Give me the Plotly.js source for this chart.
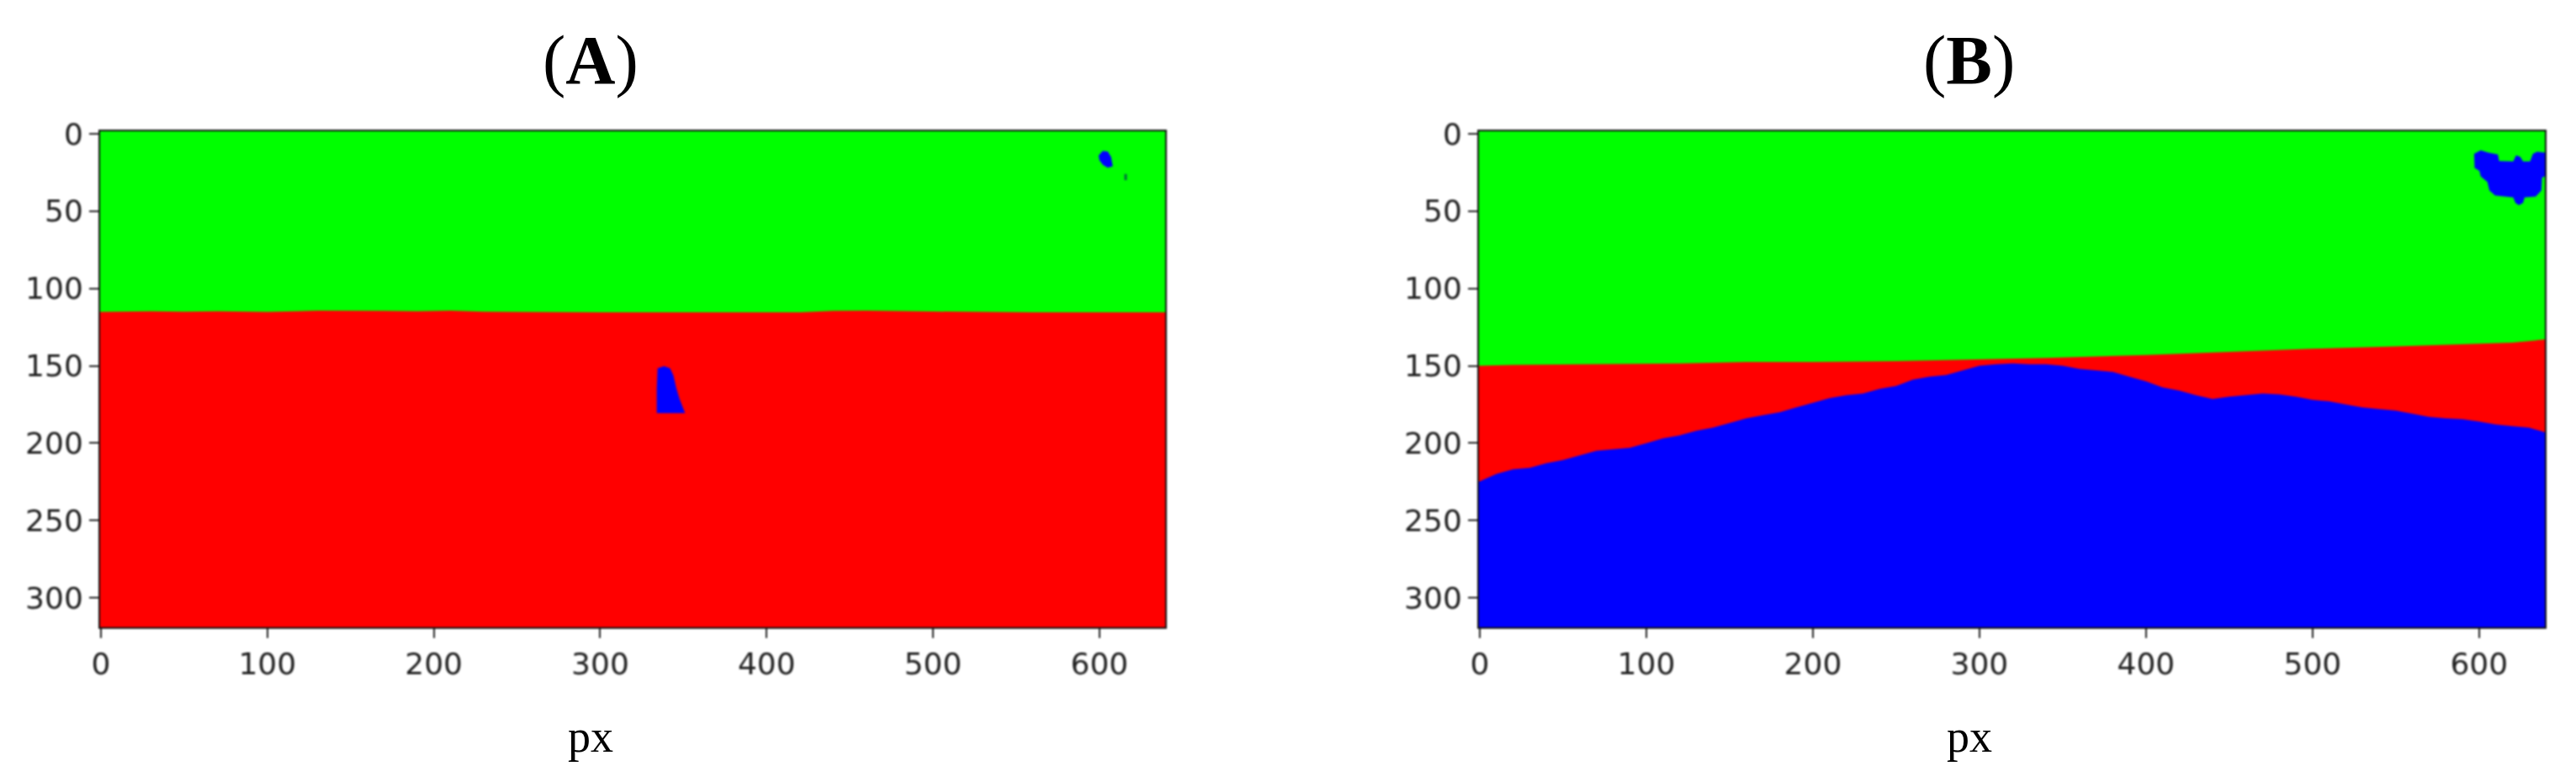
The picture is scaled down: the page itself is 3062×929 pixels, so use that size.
<!DOCTYPE html>
<html>
<head>
<meta charset="utf-8">
<script src="https://cdn.plot.ly/plotly-3.0.1.min.js"></script>
<style>
  html, body { margin: 0; padding: 0; background: #fff; }
  .cartesianlayer { filter: blur(0.9px); }
</style>
</head>
<body>
<div id="chart"></div>
<script>
// ─── Data (image pixels, y grows downward) ──────────────────────────
var xTicks = [0, 100, 200, 300, 400, 500, 600];
var yTicks = [0, 50, 100, 150, 200, 250, 300];
var xMin = -0.5, xMax = 639.5, yMin = -1.6, yMax = 319;

// Panel A: green / red edge
var aEdgeX = [-0.5, 30, 50, 70, 100, 130, 170, 190, 210, 230, 300, 420, 440, 460, 500, 560, 639.5];
var aEdgeY = [115.2, 114.7, 115, 114.7, 115.2, 114.3, 114.5, 114.7, 114.3, 115, 115.4, 115.4, 114.5, 114.3, 114.9, 115.4, 115.4];
// Panel A: object on the ground
var aObjectX = [334.5, 338.4, 342, 344, 345.7, 347.7, 351, 334, 334];
var aObjectY = [151.6, 150.2, 151.6, 156.2, 164.3, 171.5, 180.6, 180.6, 165];
// Panel A: patch in the sky
var aPatchX = [599.5, 602, 605, 607, 608, 605, 602, 600];
var aPatchY = [14, 11, 11.5, 15, 21, 22, 20, 17];
var aSpeckX = [615, 616.5, 616.5, 615];
var aSpeckY = [26, 26, 30, 30];

// Panel B: green / red edge
var bEdgeX = [-0.5, 20, 60, 120, 160, 200, 250, 300, 340, 400, 450, 500, 550, 600, 620, 639.5];
var bEdgeY = [150, 149.5, 149, 148.5, 147.5, 147.5, 147, 146, 145, 143, 141, 139, 137.5, 136, 135, 133];
// Panel B: red / blue edge
var bGroundX = [-0.5, 10, 20, 30, 40, 50, 60, 70, 80, 90, 100, 110, 120, 130, 140, 150, 160, 170, 180, 190, 200, 210, 220, 230, 240, 250, 260, 270, 280, 290, 300, 310, 320, 330, 340, 350, 360, 370, 380, 390, 400, 410, 420, 430, 440, 450, 460, 470, 480, 490, 500, 510, 520, 530, 540, 550, 560, 570, 580, 590, 600, 610, 620, 630, 639.5];
var bGroundY = [225, 220, 217, 216, 213, 211, 208, 205, 204, 203, 200, 197, 195, 192, 190, 187, 184, 182, 180, 177, 174, 171, 169, 168, 165, 163, 159, 157, 156, 153, 150, 149, 148.5, 149, 149, 150, 152, 153, 154, 157, 160, 164, 166, 169, 171.5, 170, 169, 168, 168.5, 170, 172, 173, 175, 177, 178, 179, 181, 183, 184, 184.5, 186, 188, 189, 190, 193];
// Panel B: patch in the sky
var bPatchX = [597, 601, 605.4, 611.3, 612, 620.5, 622.2, 624.7, 626.4, 630.6, 632.3, 634.8, 639.5, 639.5, 637.8, 637.4, 634, 627.3, 626.4, 623.9, 621.8, 620.5, 609.6, 606.2, 605, 601, 600.2, 597.3];
var bPatchY = [13, 10.7, 12.1, 13.4, 17.6, 17.9, 13.9, 14.9, 17.9, 17.9, 13, 11.6, 12.1, 27.5, 28.4, 36.6, 40.6, 41.1, 44.7, 46.2, 44.7, 41.1, 39.9, 36.6, 31.2, 27.5, 24, 22.1];

var GREEN = '#00ff00', RED = '#ff0000', BLUE = '#0000ff';
var W = 3062, H = 929;

function region(x, y, color, axis) {
  return {
    type: 'scatter', mode: 'lines', x: x, y: y,
    fill: 'toself', fillcolor: color,
    line: { width: 0, color: color },
    xaxis: 'x' + axis, yaxis: 'y' + axis,
    hoverinfo: 'skip', showlegend: false,
  };
}

// area below an edge, down to the bottom of the image
function below(x, y) {
  return {
    x: x.concat([xMax, xMin]),
    y: y.concat([yMax, yMax]),
  };
}

function axisStyle(domain, tickvals, range, anchor) {
  return {
    domain: domain, range: range, anchor: anchor, tickmode: 'array', tickvals: tickvals,
    ticks: 'outside', ticklen: 11, tickwidth: 2, tickcolor: '#222',
    showline: true, mirror: true, linecolor: '#111', linewidth: 2,
    showgrid: false, zeroline: false,
    tickfont: { family: 'DejaVu Sans', size: 36, color: '#222' },
  };
}

function label(text, px, py, size) {
  return {
    text: text, xref: 'paper', yref: 'paper', x: px / W, y: 1 - py / H,
    xanchor: 'center', yanchor: 'middle', showarrow: false,
    font: { family: 'Liberation Serif', size: size, color: '#000' },
  };
}

var aGround = below(aEdgeX, aEdgeY);
var bRed = below(bEdgeX, bEdgeY);
var bBlue = below(bGroundX, bGroundY);
var skyX = [xMin, xMax, xMax, xMin], skyY = [yMin, yMin, yMax, yMax];

var traces = [
  region(skyX, skyY, GREEN, ''),
  region(aGround.x, aGround.y, RED, ''),
  region(aObjectX, aObjectY, BLUE, ''),
  region(aPatchX, aPatchY, BLUE, ''),
  region(aSpeckX, aSpeckY, '#006a40', ''),
  region(skyX, skyY, GREEN, '2'),
  region(bRed.x, bRed.y, RED, '2'),
  region(bBlue.x, bBlue.y, BLUE, '2'),
  region(bPatchX, bPatchY, BLUE, '2'),
];

var yDomain = [1 - 745 / H, 1 - 156 / H];
var layout = {
  width: W, height: H,
  margin: { l: 0, r: 0, t: 0, b: 0 },
  paper_bgcolor: '#fff', plot_bgcolor: '#fff',
  xaxis: axisStyle([119 / W, 1385 / W], xTicks, [xMin, xMax], 'y'),
  yaxis: axisStyle(yDomain, yTicks, [yMax, yMin], 'x'),
  xaxis2: axisStyle([1758 / W, 3025 / W], xTicks, [xMin, xMax], 'y2'),
  yaxis2: axisStyle(yDomain, yTicks, [yMax, yMin], 'x2'),
  annotations: [
    label('(<b>A</b>)', 702, 72, 82),
    label('(<b>B</b>)', 2340, 72, 82),
    label('px', 702, 875, 54),
    label('px', 2341, 875, 54),
  ],
};

Plotly.newPlot('chart', traces, layout, { displayModeBar: false, staticPlot: true });
</script>
</body>
</html>
